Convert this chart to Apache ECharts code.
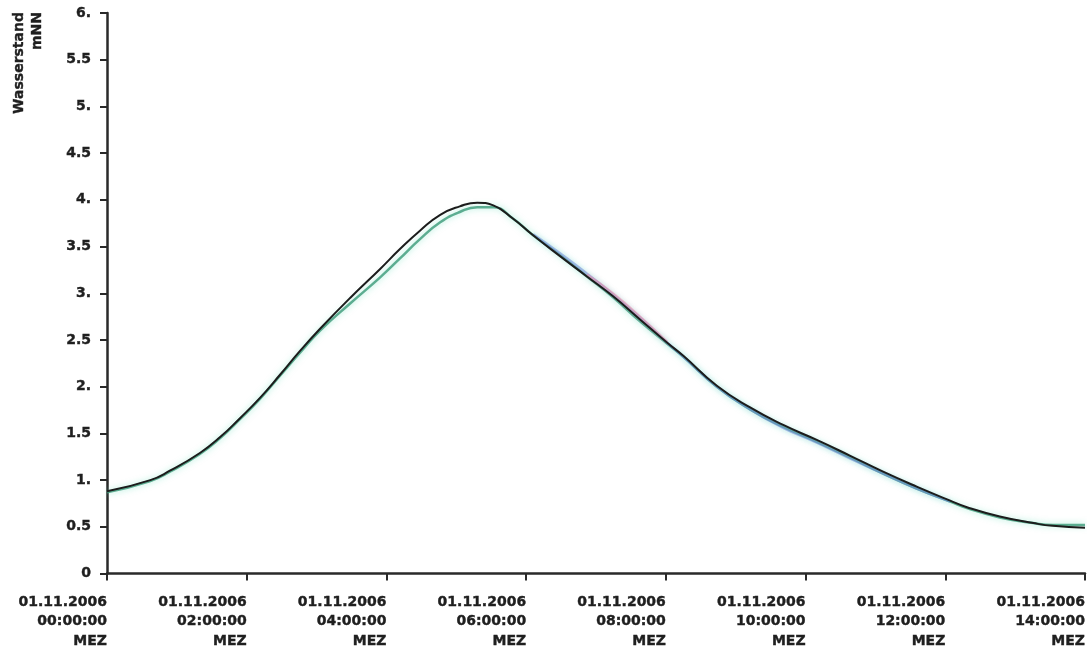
<!DOCTYPE html>
<html>
<head>
<meta charset="utf-8">
<script src="https://cdn.jsdelivr.net/npm/echarts@6/dist/echarts.min.js"></script>
<style>html,body{margin:0;padding:0;background:#fff}#c{width:1089px;height:651px}</style>
</head>
<body>
<div id="c"></div>
<script>
// Time in hours after 01.11.2006 00:00:00 MEZ
const hours = [0, 0.62, 0.9, 1.33, 1.62, 1.9, 2.19, 2.48, 2.76, 3.05, 3.48, 3.91, 4.19, 4.48, 4.77, 5.05, 5.3, 5.53, 5.81, 6.1, 6.48, 6.87, 7.24, 7.63, 8.02, 8.25, 8.73, 9.2, 9.68, 10.16, 10.64, 11.11, 11.59, 12.07, 12.31, 12.78, 13.26, 13.54, 14];
// Wasserstand (mNN), black curve
const blackValues = [0.88, 1.00, 1.10, 1.29, 1.46, 1.66, 1.88, 2.13, 2.38, 2.62, 2.95, 3.26, 3.47, 3.67, 3.84, 3.93, 3.97, 3.94, 3.80, 3.62, 3.40, 3.18, 2.97, 2.72, 2.47, 2.33, 2.01, 1.78, 1.59, 1.43, 1.26, 1.09, 0.93, 0.78, 0.71, 0.61, 0.54, 0.51, 0.49];
// green curve
const greenValues = [0.87, 0.99, 1.09, 1.28, 1.45, 1.65, 1.87, 2.12, 2.36, 2.60, 2.89, 3.17, 3.37, 3.58, 3.76, 3.87, 3.92, 3.92, 3.80, 3.62, 3.41, 3.18, 2.96, 2.70, 2.46, 2.32, 2.00, 1.76, 1.57, 1.41, 1.24, 1.07, 0.91, 0.77, 0.70, 0.60, 0.54, 0.52, 0.52];
// blue curve (falling limb)
const blueHours = [6.1, 6.48, 6.87, 7.24, 7.63, 8.02, 8.25, 8.73, 9.2, 9.68, 10.16, 10.64, 11.11, 11.59, 12.07];
const blueValues = [3.63, 3.43, 3.21, 2.99, 2.74, 2.47, 2.32, 2.00, 1.76, 1.56, 1.40, 1.23, 1.07, 0.91, 0.77];
// pink curve
const pinkHours = [6.87, 7.24, 7.63, 8.02];
const pinkValues = [3.20, 3.00, 2.75, 2.48];
// tick labels
const xTickHours = [0, 2, 4, 6, 8, 10, 12, 14];
const datePart = '01.11.2006';
const zonePart = 'MEZ';

const pair = (xs, ys) => xs.map((x, i) => [x, ys[i]]);
const pad = n => (n < 10 ? '0' : '') + n;
const FONT = 'DejaVu Sans';
const TXT = '#1f1f1f';

const chart = echarts.init(document.getElementById('c'), null, {renderer: 'canvas'});
chart.setOption({
  animation: false,
  backgroundColor: '#fff',
  grid: {left: 107, right: 4, top: 13, bottom: 76, containLabel: false},
  xAxis: {
    type: 'value', min: 0, max: 14, interval: 2,
    axisLine: {show: true, lineStyle: {color: '#2a2a2a', width: 2.5}},
    axisTick: {show: true, length: 7, lineStyle: {color: '#2a2a2a', width: 2}},
    splitLine: {show: false},
    axisLabel: {
      margin: 19, align: 'right', color: TXT, fontFamily: FONT, fontWeight: 'bold',
      fontSize: 14, lineHeight: 19.5, textBorderColor: TXT, textBorderWidth: 0.4,
      showMinLabel: true, showMaxLabel: true,
      formatter: v => xTickHours.includes(v) ? datePart + '\n' + pad(v) + ':00:00\n' + zonePart : ''
    }
  },
  yAxis: {
    type: 'value', min: 0, max: 6, interval: 0.5,
    axisLine: {show: true, lineStyle: {color: '#2a2a2a', width: 2.5}},
    axisTick: {show: true, length: 7, lineStyle: {color: '#2a2a2a', width: 2}},
    splitLine: {show: false},
    axisLabel: {
      margin: 16, color: TXT, fontFamily: FONT, fontWeight: 'bold', fontSize: 14,
      textBorderColor: TXT, textBorderWidth: 0.4,
      formatter: v => v === 0 ? '0' : (Number.isInteger(v) ? v + '.' : String(v))
    }
  },
  graphic: [{
    type: 'text', x: 28, y: 12, rotation: Math.PI / 2,
    style: {text: 'Wasserstand\nmNN', align: 'right', verticalAlign: 'middle',
      font: 'bold 14px "DejaVu Sans"', fill: TXT, stroke: TXT, lineWidth: 0.4, lineHeight: 18}
  }],
  series: [
    {type: 'line', data: pair(hours, greenValues), symbol: 'none', smooth: 0.5, z: 2,
      lineStyle: {color: '#3a9a78', width: 2.5, opacity: 0.8, shadowBlur: 6, shadowColor: 'rgba(90,220,180,0.7)'}},
    {type: 'line', data: pair(blueHours, blueValues), symbol: 'none', smooth: 0.5, z: 3,
      lineStyle: {color: '#6b86d6', width: 2.5, opacity: 0.55, shadowBlur: 5, shadowColor: 'rgba(120,200,230,0.6)'}},
    {type: 'line', data: pair(pinkHours, pinkValues), symbol: 'none', smooth: 0.5, z: 3,
      lineStyle: {color: '#e58aa8', width: 2.5, opacity: 0.55, shadowBlur: 5, shadowColor: 'rgba(240,170,190,0.6)'}},
    {type: 'line', data: pair(hours, blackValues), symbol: 'none', smooth: 0.5, z: 5,
      lineStyle: {color: '#1c1c1c', width: 2}}
  ]
});
</script>
</body>
</html>
